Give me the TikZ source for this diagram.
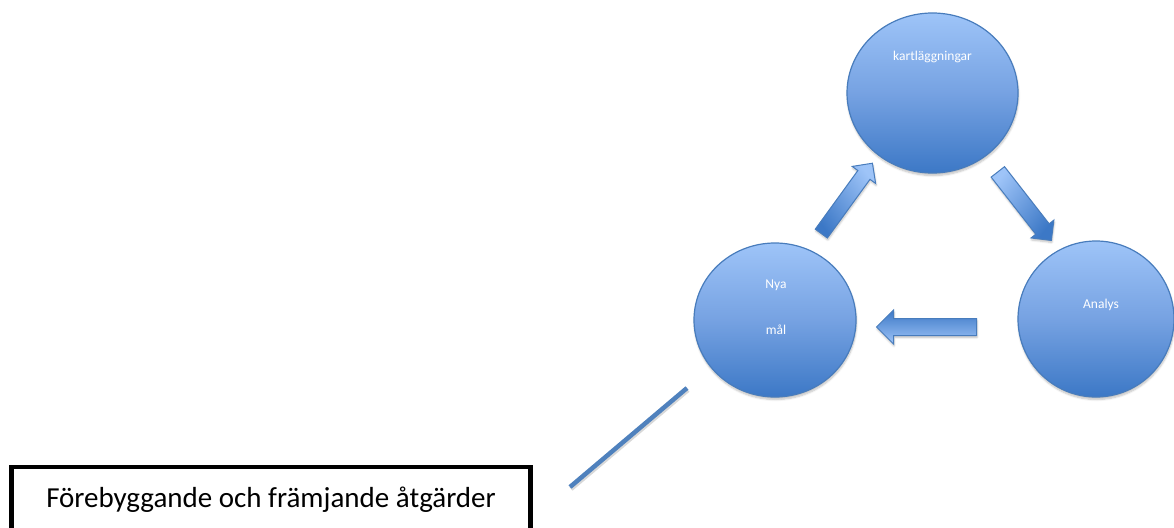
\documentclass[tikz,border=0pt]{standalone}
\usepackage{fontspec}
\setmainfont{Carlito}
\usetikzlibrary{shapes.geometric,shapes.arrows,shadows.blur}
\definecolor{cTop}{RGB}{158,196,248}
\definecolor{cMid}{RGB}{118,162,226}
\definecolor{cBot}{RGB}{60,120,198}
\definecolor{cEdge}{RGB}{72,124,188}
\definecolor{cLine}{RGB}{79,129,189}
\tikzset{
  bubble/.style={ellipse, draw=cEdge, line width=1.2pt, top color=cTop, bottom color=cBot, middle color=cMid,
    blur shadow={shadow xshift=0.5pt, shadow yshift=-2.5pt, shadow opacity=25, shadow blur steps=6}},
  btext/.style={text=white, font=\fontsize{13.5}{15}\selectfont, inner sep=0pt},
  barrow/.style={single arrow, draw=cEdge, line width=1pt, inner xsep=0pt, anchor=tail,
    single arrow tip angle=90,
    blur shadow={shadow xshift=0.5pt, shadow yshift=-2pt, shadow opacity=25, shadow blur steps=5}},
  boxstyle/.style={draw=black, line width=4.5pt, fill=white, inner sep=0pt}
}
\begin{document}
\begin{tikzpicture}[x=1pt,y=-1pt]
\useasboundingbox (0,0) rectangle (1174,527);
\clip (0,0) rectangle (1174,527);
% circles
\node[bubble, minimum width=171pt, minimum height=160pt, inner sep=0pt] (k) at (932.5,93) {};
\node[bubble, minimum width=162pt, minimum height=154pt, inner sep=0pt] (n) at (775,320) {};
\node[bubble, minimum width=156pt, minimum height=156pt, inner sep=0pt] (a) at (1096,319) {};
% texts
\node[btext] (kt) at ([yshift=36pt]k.center) {kartläggningar};
\node[btext] (nt1) at ([yshift=35pt,xshift=1pt]n.center) {Nya};
\node[btext] (nt2) at ([yshift=-10pt,xshift=1pt]n.center) {mål};
\node[btext] (at) at ([yshift=14pt,xshift=5pt]a.center) {Analys};
% block arrows
\node[barrow, rotate=54, minimum height=87pt, inner ysep=7pt, single arrow head extend=7pt,
  top color=cTop, bottom color=cBot, shading angle=-54] (ar1) at (821,234) {};
\node[barrow, rotate=-52, minimum height=87pt, inner ysep=8pt, single arrow head extend=6pt,
  top color=cTop, bottom color=cBot, shading angle=52] (ar2) at (997.5,171.5) {};
\node[barrow, rotate=180, minimum height=100pt, inner ysep=8pt, single arrow head extend=8.5pt,
  top color=cBot, bottom color=cTop] (ar3) at (977,327) {};
% box
\node[boxstyle, minimum width=519pt, minimum height=66pt] (box) at (271,500) {};
\node[inner sep=0pt, font=\fontsize{29}{34}\selectfont, anchor=base] (boxt) at (271,507) {Förebyggande och främjande åtgärder};
% line
\coordinate (l1) at (687,388);
\coordinate (l2) at (570,487);
\draw[black!30, opacity=0.5, line width=4.5pt] ([shift={(1,2)}]l1) -- ([shift={(1,2)}]l2);
\draw[cLine, line width=4.5pt] (l1) -- (l2);
\end{tikzpicture}
\end{document}
